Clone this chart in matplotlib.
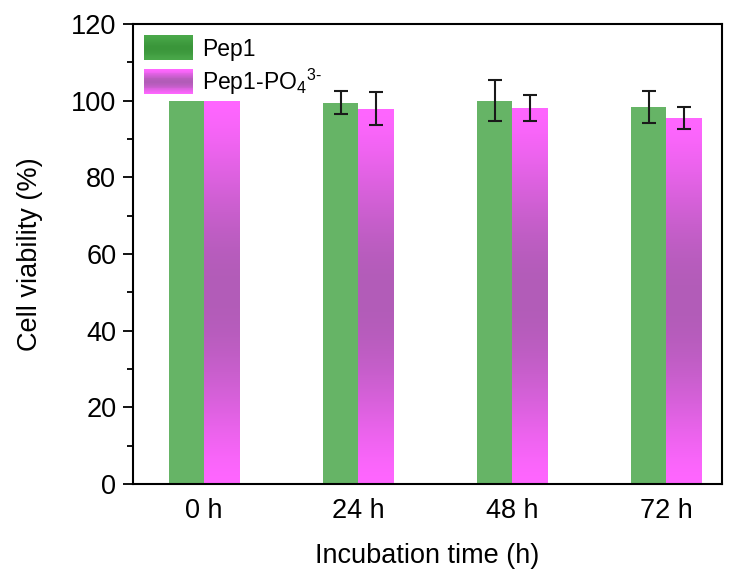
import matplotlib
matplotlib.use("Agg")
import matplotlib.pyplot as plt
import numpy as np
from matplotlib.patches import Rectangle
from matplotlib.legend_handler import HandlerBase
from matplotlib.colors import to_rgb

plt.rcParams['font.family'] = ['Liberation Sans', 'DejaVu Sans']
plt.rcParams['mathtext.fontset'] = 'custom'
plt.rcParams['mathtext.rm'] = 'Liberation Sans'
plt.rcParams['mathtext.it'] = 'Liberation Sans'

labels = ['0 h', '24 h', '48 h', '72 h']
pep1 = [100, 99.5, 100.0, 98.4]
pep1_err = [0, 3.1, 5.4, 4.2]
pep1_po4 = [100, 97.9, 98.1, 95.5]
pep1_po4_err = [0, 4.3, 3.5, 2.9]

green = '#66b466'
pink = '#ff66ff'
purple = '#b25cb8'


def gradient_colors(c_edge, c_mid, n=64):
    t = np.linspace(0, 1, n)
    w = np.sin(np.pi * t) ** 1.5
    a, b = np.array(to_rgb(c_edge)), np.array(to_rgb(c_mid))
    return a[None, :] * (1 - w[:, None]) + b[None, :] * w[:, None]


class GradientHandler(HandlerBase):
    def __init__(self, c_edge, c_mid):
        super().__init__()
        self.cols = gradient_colors(c_edge, c_mid, 30)

    def create_artists(self, legend, orig_handle, xdescent, ydescent,
                       width, height, fontsize, trans):
        n = len(self.cols)
        arts = []
        for i, c in enumerate(self.cols):
            r = Rectangle((-xdescent, -ydescent + height * i / n), width,
                          height / n + 0.3, facecolor=c, edgecolor='none',
                          transform=trans)
            arts.append(r)
        return arts


fig = plt.figure(figsize=(7.39, 5.77), dpi=100)
ax = fig.add_axes([133 / 739, 93 / 577, 589 / 739, 460 / 577])

x = np.arange(len(labels))
width = 0.227

b1 = ax.bar(x - width / 2, pep1, width, color=green, zorder=2)
b2 = ax.bar(x + width / 2, pep1_po4, width, color='none', zorder=2)

grad = gradient_colors(pink, purple, 128)[:, None, :]
for r in b2:
    x0 = r.get_x()
    im = ax.imshow(grad, extent=(x0, x0 + r.get_width(), 0, r.get_height()),
                   aspect='auto', origin='lower', zorder=2, interpolation='bilinear')
    im.set_clip_path(r)

for xi, v, e in zip(x - width / 2, pep1, pep1_err):
    if e > 0:
        ax.errorbar(xi, v, yerr=e, fmt='none', ecolor='#1a1a1a', elinewidth=1.5,
                    capsize=5, capthick=1.5, zorder=3)
for xi, v, e in zip(x + width / 2, pep1_po4, pep1_po4_err):
    if e > 0:
        ax.errorbar(xi, v, yerr=e, fmt='none', ecolor='#1a1a1a', elinewidth=1.5,
                    capsize=5, capthick=1.5, zorder=3)

ax.set_xlim(-0.46, 3.36)
ax.set_ylim(0, 120)
ax.set_xticks(x)
ax.set_xticklabels(labels)
ax.set_yticks(np.arange(0, 121, 20))
ax.set_yticks(np.arange(10, 120, 20), minor=True)
ax.tick_params(axis='y', which='major', direction='out', length=7, width=1.3,
               labelsize=19.5, pad=5)
ax.tick_params(axis='y', which='minor', direction='out', length=4, width=1.3)
ax.tick_params(axis='x', length=0, labelsize=19.5, pad=10)
for s in ax.spines.values():
    s.set_linewidth(1.5)

ax.set_ylabel('Cell viability (%)', fontsize=19.5, labelpad=20)
ax.set_xlabel('Incubation time (h)', fontsize=19.5, labelpad=14)

h1 = Rectangle((0, 0), 1, 1)
h2 = Rectangle((0, 0), 1, 1)
ax.legend([h1, h2], ['Pep1', 'Pep1-PO$_4$$^{3\u2010}$'],
          handler_map={h1: GradientHandler('#4aa84a', '#3a963a'),
                       h2: GradientHandler(pink, purple)},
          loc='upper left', frameon=False, fontsize=16.5,
          handlelength=2.1, handleheight=1.3, handletextpad=0.4,
          labelspacing=0.25, borderaxespad=0.1, bbox_to_anchor=(0.0, 1.0))

fig.savefig('out.png', dpi=100)
